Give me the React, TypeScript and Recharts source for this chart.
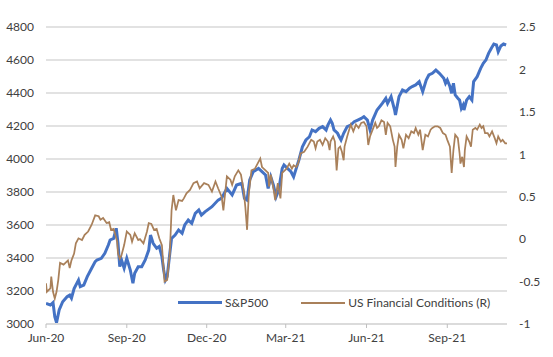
import React from "react";
import { LineChart, Line, XAxis, YAxis, CartesianGrid, Legend } from "recharts";

// x values are days since 1 Jun 2020
const tickDays = [0, 92, 183, 273, 365, 457];
const tickLabels = ["Jun-20", "Sep-20", "Dec-20", "Mar-21", "Jun-21", "Sep-21"];

const spxDays = [
  0, 5, 8, 10, 12, 15, 19, 24, 27, 29, 32, 37, 39, 43, 47, 52, 56, 58, 63, 67, 71, 73, 77, 80, 82, 84, 86, 89,
  92, 96, 99, 101, 105, 109, 113, 117, 119, 122, 126, 129, 132, 134, 136, 138, 141, 143, 147, 151, 155, 158,
  162, 166, 170, 174, 177, 181, 189, 196, 200, 206, 212, 217, 223, 226, 229, 232, 236, 242, 246, 250, 253, 256,
  259, 262, 265, 269, 271, 275, 279, 282, 285, 288, 292, 296, 300, 303, 307, 311, 315, 319, 321, 324, 326, 328,
  332, 334, 336, 339, 343, 347, 351, 355, 359, 362, 366, 369, 372, 377, 383, 387, 389, 393, 397, 398, 402, 406,
  410, 414, 417, 421, 425, 429, 433, 436, 440, 444, 448, 453, 455, 457, 460, 462, 464, 466, 469, 471, 473, 475,
  476, 479, 482, 485, 487, 491, 495, 498, 501, 504, 507, 510, 513, 515, 518, 521, 524,
];
const spxValues = [
  3125, 3115, 3130, 3045, 3008, 3085, 3135, 3165, 3175, 3157, 3215, 3266, 3226, 3236, 3287, 3338, 3378, 3388,
  3398, 3428, 3479, 3509, 3519, 3580, 3490, 3347, 3388, 3338, 3398, 3327, 3247, 3307, 3347, 3347, 3388, 3448,
  3539, 3489, 3459, 3470, 3408, 3327, 3266, 3287, 3428, 3519, 3539, 3570, 3550, 3600, 3630, 3610, 3671, 3691,
  3660, 3680, 3711, 3751, 3763, 3822, 3782, 3842, 3853, 3762, 3751, 3873, 3923, 3943, 3923, 3903, 3822, 3892,
  3842, 3771, 3812, 3943, 3964, 3943, 3923, 3892, 3943, 3994, 4074, 4115, 4135, 4176, 4166, 4186, 4196, 4176,
  4206, 4236, 4216, 4176, 4156, 4135, 4115, 4156, 4196, 4206, 4226, 4236, 4246, 4256, 4236, 4176, 4236, 4297,
  4337, 4368, 4337, 4378, 4297, 4267, 4378, 4418, 4408, 4429, 4439, 4449, 4469, 4408, 4479, 4509, 4519, 4539,
  4519, 4489, 4459, 4479, 4439, 4398, 4459, 4388, 4368, 4357, 4307, 4327, 4297, 4357, 4378, 4357, 4469, 4499,
  4549, 4580, 4600, 4640, 4670, 4697, 4691, 4650, 4685, 4697, 4691,
];

const fciDays = [
  0, 1, 5, 6, 8, 10, 12, 14, 16, 20, 23, 25, 27, 29, 32, 34, 37, 41, 44, 48, 52, 56, 60, 62, 65, 69, 72, 74, 77,
  79, 81, 82, 84, 86, 89, 92, 96, 98, 101, 105, 107, 111, 115, 117, 120, 123, 126, 129, 132, 134, 135, 138, 141,
  143, 145, 148, 151, 155, 157, 160, 164, 168, 172, 175, 180, 185, 189, 193, 196, 200, 202, 206, 210, 212, 215,
  219, 222, 225, 227, 229, 231, 234, 238, 242, 244, 246, 250, 253, 254, 256, 259, 261, 264, 267, 269, 274, 277,
  280, 282, 285, 287, 290, 294, 298, 302, 305, 307, 309, 312, 315, 318, 321, 323, 324, 327, 329, 331, 333, 335,
  337, 339, 340, 343, 347, 350, 353, 356, 359, 362, 365, 367, 369, 372, 375, 377, 379, 382, 385, 387, 389, 392,
  395, 397, 398, 400, 402, 405, 407, 410, 413, 416, 419, 421, 424, 426, 429, 432, 435, 438, 440, 443, 446, 449,
  452, 455, 457, 460, 461, 462, 464, 466, 469, 471, 472, 474, 476, 477, 479, 482, 484, 486, 489, 491, 494, 496,
  498, 500, 503, 505, 508, 511, 513, 515, 518, 520, 523, 525,
];
const fciValues = [
  -0.52, -0.62, -0.58, -0.44, -0.62, -0.7, -0.62, -0.48, -0.28, -0.3, -0.27, -0.25, -0.34, -0.25, -0.17, -0.05,
  0.01, -0.01, 0.05, 0.09, 0.17, 0.28, 0.27, 0.23, 0.25, 0.19, 0.2, 0.11, 0.12, 0.05, -0.03, -0.17, -0.23, -0.19,
  -0.07, 0.09, 0.05, -0.03, 0.07, -0.01, 0.0, -0.05, 0.09, 0.19, 0.18, 0.11, 0.12, 0.01, -0.07, -0.36, -0.5,
  -0.48, -0.17, 0.34, 0.52, 0.34, 0.46, 0.45, 0.48, 0.54, 0.58, 0.66, 0.68, 0.6, 0.66, 0.64, 0.56, 0.68, 0.6,
  0.5, 0.34, 0.74, 0.7, 0.64, 0.74, 0.81, 0.76, 0.58, 0.38, 0.11, 0.54, 0.81, 0.83, 0.91, 0.95, 0.85, 0.81, 0.78,
  0.62, 0.76, 0.6, 0.46, 0.66, 0.48, 0.78, 0.83, 0.89, 0.83, 0.87, 0.85, 0.89, 1.01, 1.03, 1.09, 1.17, 1.15,
  1.07, 1.15, 1.17, 1.11, 1.19, 1.15, 1.05, 1.15, 1.21, 1.15, 0.81, 1.07, 1.09, 1.03, 0.93, 1.09, 1.21, 1.35,
  1.27, 1.35, 1.31, 1.37, 1.38, 1.33, 1.11, 1.21, 1.29, 1.37, 1.31, 1.33, 1.4, 1.38, 1.23, 1.37, 1.33, 1.17,
  1.09, 0.85, 1.09, 1.23, 1.17, 1.07, 1.23, 1.19, 1.27, 1.25, 1.31, 1.23, 1.29, 1.05, 1.23, 1.21, 1.29, 1.31,
  1.33, 1.33, 1.31, 1.25, 1.23, 1.17, 1.09, 0.93, 0.78, 1.05, 1.23, 1.19, 1.01, 0.89, 0.97, 0.85, 1.05, 1.21,
  1.15, 1.09, 1.29, 1.31, 1.29, 1.35, 1.31, 1.33, 1.25, 1.25, 1.21, 1.27, 1.19, 1.13, 1.21, 1.15, 1.17, 1.13,
  1.13,
];

const leftTicks = [3000, 3200, 3400, 3600, 3800, 4000, 4200, 4400, 4600, 4800];
const rightTicks = [-1, -0.5, 0, 0.5, 1, 1.5, 2, 2.5];

const spxData = spxDays.map((d, i) => ({ day: d, spx: spxValues[i] }));
const fciData = fciDays.map((d, i) => ({ day: d, fci: fciValues[i] }));

const font = "Lato, 'Liberation Sans', sans-serif";
const tickStyle = { fontSize: 12, fill: "#404040", fontFamily: font };

function LegendBox(props: any) {
  const items = props.payload || [];
  return (
    <div style={{ display: "flex", alignItems: "center", fontFamily: font, fontSize: 12, color: "#404040" }}>
      {items.map((it: any, i: number) => (
        <div key={i} style={{ display: "flex", alignItems: "center", marginRight: i === 0 ? 33 : 0 }}>
          <span
            style={{
              display: "inline-block",
              width: 44,
              height: i === 0 ? 3 : 2,
              background: it.color,
              marginRight: 3,
            }}
          />
          <span>{it.value}</span>
        </div>
      ))}
    </div>
  );
}

export default function App() {
  return (
    <div style={{ position: "absolute", left: 0, top: 0, background: "#fff" }}>
      <LineChart width={553} height={357} margin={{ top: 27, right: 6, bottom: 8, left: 0 }}>
        <CartesianGrid yAxisId="left" horizontal vertical={false} stroke="#d9d9d9" strokeWidth={1.5} />
        <XAxis
          dataKey="day"
          type="number"
          domain={[0, 525]}
          ticks={tickDays}
          tickFormatter={(v: number) => tickLabels[tickDays.indexOf(v)] ?? ""}
          tick={tickStyle}
          axisLine={{ stroke: "#d9d9d9", strokeWidth: 1.5 }}
          tickLine={{ stroke: "#bfbfbf" }}
          tickSize={4}
          tickMargin={5}
          height={25}
          allowDataOverflow
        />
        <YAxis
          yAxisId="left"
          domain={[3000, 4800]}
          ticks={leftTicks}
          tick={tickStyle}
          axisLine={false}
          tickLine={false}
          tickSize={0}
          tickMargin={12}
          width={46}
        />
        <YAxis
          yAxisId="right"
          orientation="right"
          domain={[-1, 2.5]}
          ticks={rightTicks}
          tick={tickStyle}
          axisLine={false}
          tickLine={false}
          tickSize={0}
          tickMargin={12}
          width={40}
        />
        <Legend
          layout="horizontal"
          verticalAlign="middle"
          align="center"
          content={LegendBox}
          wrapperStyle={{ left: 178, top: 295, width: 320, height: 16 }}
        />
        <Line
          yAxisId="left"
          data={spxData}
          dataKey="spx"
          name="S&P500"
          stroke="#4472C4"
          strokeWidth={3}
          dot={false}
          isAnimationActive={false}
        />
        <Line
          yAxisId="right"
          data={fciData}
          dataKey="fci"
          name="US Financial Conditions (R)"
          stroke="#A9805A"
          strokeWidth={1.75}
          dot={false}
          isAnimationActive={false}
        />
      </LineChart>
    </div>
  );
}
